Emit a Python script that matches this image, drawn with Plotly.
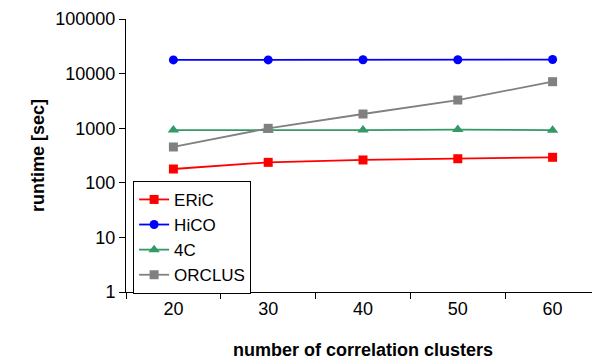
import plotly.graph_objects as go

categories = ["20", "30", "40", "50", "60"]
eric = [179, 237, 262, 276, 293]
hico = [17800, 17800, 17900, 17900, 18100]
c4 = [925, 920, 925, 945, 920]
orclus = [453, 995, 1820, 3280, 7110]
y_ticks = [1, 10, 100, 1000, 10000, 100000]
y_tick_labels = ["1", "10", "100", "1000", "10000", "100000"]

FONT = "Liberation Sans, Arial, sans-serif"

series = [
    ("ERiC", eric, "#FF0000", "square", 9),
    ("HiCO", hico, "#0000FF", "circle", 9),
    ("4C", c4, "#339966", "triangle-up", 10),
    ("ORCLUS", orclus, "#808080", "square", 9),
]

fig = go.Figure()
for name, vals, color, sym, msize in series:
    fig.add_trace(go.Scatter(
        x=categories, y=vals, name=name, mode="lines+markers",
        line=dict(color=color, width=1.8),
        marker=dict(symbol=sym, color=color, size=msize),
    ))

# page body has an 8px margin, so the figure is sized/offset to compensate
fig.update_layout(
    width=592, height=352,
    margin=dict(l=118, r=0, t=11, b=68),
    paper_bgcolor="white", plot_bgcolor="white",
    font=dict(family=FONT, size=18, color="black"),
    showlegend=True,
    legend=dict(
        x=0.015, y=0.407, xanchor="left", yanchor="top",
        bgcolor="white", bordercolor="black", borderwidth=1,
        font=dict(size=17), tracegroupgap=0,
    ),
)
fig.update_xaxes(
    type="category", range=[-0.5, 4.5], tickson="boundaries", ticks="outside", ticklen=6,
    tickcolor="black", showline=True, linecolor="black", linewidth=1,
    showgrid=False, zeroline=False, automargin=False,
    title=dict(text="<b>number of correlation clusters</b>", font=dict(size=18), standoff=25),
)
fig.update_yaxes(
    type="log", range=[0, 5], tickvals=y_ticks, ticktext=y_tick_labels,
    ticks="outside", ticklen=6, tickcolor="black",
    showline=True, linecolor="black", linewidth=1,
    showgrid=False, zeroline=False, automargin=False,
    title=dict(text="<b>runtime [sec]</b>", font=dict(size=18), standoff=6),
)

fig.write_html("out.html")
